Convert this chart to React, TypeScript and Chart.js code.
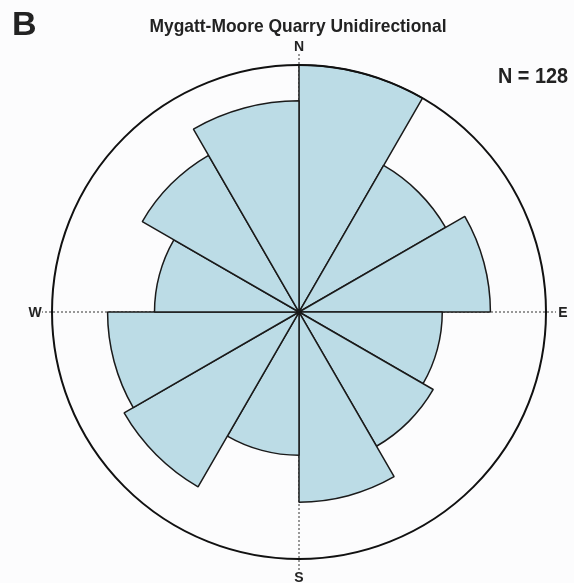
import React, { useEffect, useRef } from "react";
import { Chart, registerables } from "chart.js";

Chart.register(...registerables);

// 30° direction classes, clockwise from North
const sectors = [
  "0-30", "30-60", "60-90", "90-120", "120-150", "150-180",
  "180-210", "210-240", "240-270", "270-300", "300-330", "330-360",
];
// relative petal length (outer circle = 20)
const petalLength = [20, 13.7, 15.5, 11.6, 12.55, 15.4, 11.6, 16.35, 15.5, 11.7, 14.65, 17.1];
const scaleMax = 20;
const compassLabels = ["N", "E", "S", "W"];
const titleText = "Mygatt-Moore Quarry Unidirectional";
const panelLetter = "B";
const countText = "N = 128";

const FONT = "'Liberation Sans', Arial, sans-serif";

const rosePlugin = {
  id: "rose",
  beforeDatasetsDraw(chart: any) {
    const s = chart.scales.r;
    const cx = s.xCenter, cy = s.yCenter, R = s.drawingArea;
    const ctx = chart.ctx;
    ctx.save();
    ctx.strokeStyle = "#333";
    ctx.lineWidth = 1;
    ctx.setLineDash([2, 2]);
    const ext = [R + 12, R + 10, R + 12, R + 10];
    for (let i = 0; i < 4; i++) {
      const a = -Math.PI / 2 + (i * Math.PI) / 2;
      ctx.beginPath();
      ctx.moveTo(cx, cy);
      ctx.lineTo(cx + Math.cos(a) * ext[i], cy + Math.sin(a) * ext[i]);
      ctx.stroke();
    }
    ctx.restore();
  },
  afterDatasetsDraw(chart: any) {
    const s = chart.scales.r;
    const cx = s.xCenter, cy = s.yCenter, R = s.drawingArea;
    const ctx = chart.ctx;
    ctx.save();
    ctx.strokeStyle = "#111";
    ctx.lineWidth = 2;
    ctx.beginPath();
    ctx.arc(cx, cy, R, 0, Math.PI * 2);
    ctx.stroke();

    ctx.fillStyle = "#222";
    ctx.textAlign = "center";
    ctx.textBaseline = "middle";
    ctx.font = `bold 14px ${FONT}`;
    const off = [R + 19, R + 17, R + 18, R + 17];
    for (let i = 0; i < 4; i++) {
      const a = -Math.PI / 2 + (i * Math.PI) / 2;
      ctx.fillText(compassLabels[i], cx + Math.cos(a) * off[i], cy + Math.sin(a) * off[i] + 1);
    }

    ctx.textBaseline = "alphabetic";
    ctx.font = `bold 19px ${FONT}`;
    ctx.fillText(titleText, 298, 32, 297);

    ctx.textAlign = "left";
    ctx.font = `bold 34px ${FONT}`;
    ctx.fillText(panelLetter, 12, 35);

    ctx.textAlign = "right";
    ctx.font = `bold 22px ${FONT}`;
    ctx.fillText(countText, 568, 83, 70);
    ctx.restore();
  },
};

export default function App() {
  const ref = useRef<HTMLCanvasElement | null>(null);
  useEffect(() => {
    if (!ref.current) return;
    const chart = new Chart(ref.current, {
      type: "polarArea",
      data: {
        labels: sectors,
        datasets: [
          {
            data: petalLength,
            backgroundColor: "#bcdce6",
            borderColor: "#1a1a1a",
            borderWidth: 1.5,
          },
        ],
      },
      options: {
        animation: false,
        responsive: false,
        layout: { padding: { left: 52, right: 28, top: 65, bottom: 24 } },
        plugins: {
          legend: { display: false },
          tooltip: { enabled: false },
          title: { display: false },
        },
        scales: {
          r: {
            min: 0,
            max: scaleMax,
            startAngle: 0,
            ticks: { display: false, stepSize: scaleMax },
            grid: { display: false },
            angleLines: { display: false },
            pointLabels: { display: false },
          },
        },
      },
      plugins: [rosePlugin],
    });
    return () => chart.destroy();
  }, []);
  return (
    <div style={{ position: "absolute", left: 0, top: 0, width: 574, height: 583, background: "#fcfcfd" }}>
      <canvas ref={ref} width={574} height={583} />
    </div>
  );
}
